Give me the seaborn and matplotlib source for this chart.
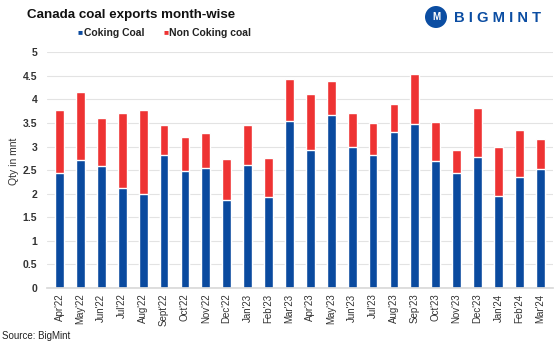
import pandas as pd
import seaborn as sns
import matplotlib.pyplot as plt
from matplotlib.patches import Ellipse

# --- DATOS (mnt) ---
months = ["Apr'22", "May'22", "Jun'22", "Jul'22", "Aug'22", "Sept'22", "Oct'22", "Nov'22",
          "Dec'22", "Jan'23", "Feb'23", "Mar'23", "Apr'23", "May'23", "Jun'23", "Jul'23",
          "Aug'23", "Sep'23", "Oct'23", "Nov'23", "Dec'23", "Jan'24", "Feb'24", "Mar'24"]
coking = [2.44, 2.72, 2.59, 2.12, 2.00, 2.82, 2.48, 2.55, 1.87, 2.60, 1.93, 3.55,
          2.93, 3.67, 2.99, 2.82, 3.30, 3.48, 2.70, 2.44, 2.78, 1.95, 2.35, 2.52]
non_coking = [1.34, 1.43, 1.01, 1.58, 1.78, 0.64, 0.72, 0.73, 0.86, 0.85, 0.82, 0.88,
              1.18, 0.72, 0.72, 0.68, 0.60, 1.05, 0.83, 0.48, 1.03, 1.03, 1.01, 0.63]

BLUE = "#0a4a9f"
RED = "#ee3333"

df = pd.DataFrame({"month": months, "coking": coking, "non_coking": non_coking})
df["total"] = df["coking"] + df["non_coking"]

sns.set_theme(style="white")
plt.rcParams["font.family"] = ["Liberation Sans", "DejaVu Sans"]

W, H = 559, 350
fig = plt.figure(figsize=(W / 100, H / 100), dpi=100)
ax = fig.add_axes([0.084, 0.177, 0.905, 0.674])

# barras apiladas: total (rojo) y encima coking (azul)
sns.barplot(data=df, x="month", y="total", color=RED, width=0.42, saturation=1, ax=ax)
sns.barplot(data=df, x="month", y="coking", color=BLUE, width=0.42, saturation=1, ax=ax)

ax.set_ylim(0, 5)
ax.set_yticks([0, 0.5, 1, 1.5, 2, 2.5, 3, 3.5, 4, 4.5, 5])
ax.set_yticklabels(["0", "0.5", "1", "1.5", "2", "2.5", "3", "3.5", "4", "4.5", "5"],
                   fontsize=7.5, fontweight="bold", color="#333333")
ax.set_xlim(-0.6, len(months) - 0.4)
ax.tick_params(axis="x", labelrotation=90, labelsize=7, colors="#333333", length=0, pad=4)
ax.tick_params(axis="y", length=0, pad=7)
ax.grid(axis="y", color="#e3e3e3", linewidth=0.8)
ax.set_axisbelow(True)
for s in ["top", "right", "left"]:
    ax.spines[s].set_visible(False)
ax.spines["bottom"].set_color("#d9d9d9")
ax.set_xlabel("")
ax.set_ylabel("")
fig.text(14 / W, 0.54, "Qty in mnt", fontsize=7.5, color="#333333", rotation=90,
         ha="center", va="center")

# Título y leyenda
fig.text(27 / W, 1 - 15 / H, "Canada coal exports month-wise", fontsize=9.6, fontweight="bold",
         color="#111111", va="center")
fig.text(78 / W, 1 - 33 / H, "\u25a0", color=BLUE, fontsize=6, va="center")
fig.text(84 / W, 1 - 33 / H, "Coking Coal", fontsize=7.5, fontweight="bold", color="#222222", va="center")
fig.text(163 / W, 1 - 33 / H, "\u25a0", color=RED, fontsize=6, va="center")
fig.text(169 / W, 1 - 33 / H, "Non Coking coal", fontsize=7.5, fontweight="bold", color="#222222", va="center")

# Logo
fig.patches.append(Ellipse((436 / W, 1 - 17 / H), 22 / W, 22 / H, transform=fig.transFigure,
                           facecolor="#0b4da2", edgecolor="none"))
fig.text(436 / W, 1 - 17 / H, "M", fontsize=7, fontweight="bold", color="white",
         ha="center", va="center")
fig.text(454 / W, 1 - 18 / H, "B I G M I N T", fontsize=10.6, fontweight="bold",
         color="#0b4da2", va="center")

# Fuente
fig.text(2 / W, 1 - 336 / H, "Source: BigMint", fontsize=7, color="#222222", va="center")

fig.savefig("out.png", dpi=100)
